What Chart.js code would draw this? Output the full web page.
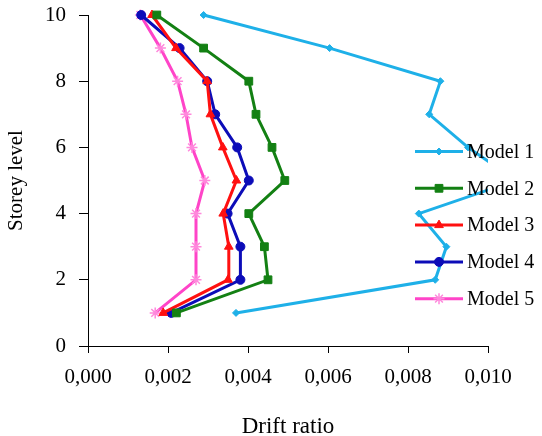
<!DOCTYPE html>
<html>
<head>
<meta charset="utf-8">
<script src="https://cdn.jsdelivr.net/npm/chart.js@4/dist/chart.umd.min.js"></script>
<style>
  html, body { margin: 0; padding: 0; background: #fff; }
  #wrap { width: 542px; height: 436px; }
</style>
</head>
<body>
<div id="wrap"><canvas id="myChart" width="542" height="436"></canvas></div>
<script>
// storey levels, bottom to top
const storeys = [1, 2, 3, 4, 5, 6, 7, 8, 9, 10];

// drift ratio per storey
const model1 = [0.0037, 0.00868, 0.00896, 0.00827, 0.0107, 0.0095, 0.00853, 0.00881, 0.00604, 0.00289];
const model2 = [0.00221, 0.0045, 0.00441, 0.00402, 0.00492, 0.0046, 0.0042, 0.00402, 0.00289, 0.00172];
const model3 = [0.00188, 0.0035, 0.00352, 0.00338, 0.00371, 0.00337, 0.00306, 0.00298, 0.0022, 0.0016];
const model4 = [0.00208, 0.00381, 0.00381, 0.00349, 0.00402, 0.00373, 0.00318, 0.00298, 0.00229, 0.00133];
const model5 = [0.00168, 0.0027, 0.0027, 0.0027, 0.00292, 0.0026, 0.00245, 0.00224, 0.00181, 0.00131];

const seriesNames = ['Model 1', 'Model 2', 'Model 3', 'Model 4', 'Model 5'];
const xTicks = [0, 0.002, 0.004, 0.006, 0.008, 0.010];
const yTicks = [0, 2, 4, 6, 8, 10];

const serif = "'Liberation Serif', 'Times New Roman', serif";

function pts(values) {
    return values.map((v, i) => ({ x: v, y: storeys[i] }));
}

const styles = [
    { color: '#1eb0e8', marker: 'rectRot', radius: 3.5, markerColor: '#1eb0e8' },
    { color: '#138013', marker: 'rect', radius: 5.5, markerColor: '#138013' },
    { color: '#ff1010', marker: 'triangle', radius: 5, markerColor: '#ff1010' },
    { color: '#0c0cb8', marker: 'circle', radius: 4.5, markerColor: '#0c0cb8' },
    { color: '#ff44c8', marker: 'star', radius: 5.5, markerColor: '#ff88dc' }
];

const allValues = [model1, model2, model3, model4, model5];

const datasets = allValues.map((vals, i) => ({
    label: seriesNames[i],
    data: pts(vals),
    showLine: true,
    borderColor: styles[i].color,
    backgroundColor: styles[i].markerColor,
    borderWidth: 3,
    pointStyle: styles[i].marker,
    pointRadius: styles[i].radius,
    pointHoverRadius: styles[i].radius,
    pointBackgroundColor: styles[i].markerColor,
    pointBorderColor: styles[i].markerColor,
    pointBorderWidth: i === 4 ? 1.5 : 1,
    tension: 0,
    clip: { left: false, top: false, right: 0, bottom: false }
}));

// legend drawn at the right, partly over the plot
const sideLegend = {
    id: 'sideLegend',
    afterDraw(chart) {
        const ctx = chart.ctx;
        ctx.save();
        datasets.forEach((ds, i) => {
            const y = 151.5 + i * 36.8;
            ctx.strokeStyle = ds.borderColor;
            ctx.lineWidth = 3;
            ctx.beginPath();
            ctx.moveTo(415, y);
            ctx.lineTo(463, y);
            ctx.stroke();
            ctx.fillStyle = ds.pointBackgroundColor;
            ctx.strokeStyle = ds.pointBorderColor;
            ctx.lineWidth = ds.pointBorderWidth;
            Chart.helpers.drawPoint(ctx, { pointStyle: ds.pointStyle, radius: ds.pointRadius, rotation: 0, borderWidth: ds.pointBorderWidth }, 439, y);
            ctx.fillStyle = '#000';
            ctx.font = '20px ' + serif;
            ctx.textAlign = 'left';
            ctx.textBaseline = 'middle';
            ctx.fillText(ds.label, 467, y + 1);
        });
        ctx.restore();
    }
};

const ctx = document.getElementById('myChart').getContext('2d');

new Chart(ctx, {
    type: 'scatter',
    data: { datasets: datasets },
    plugins: [sideLegend],
    options: {
        responsive: false,
        devicePixelRatio: 1,
        animation: false,
        layout: { padding: { left: 0, right: 54, top: 15, bottom: 0 } },
        plugins: {
            legend: { display: false },
            tooltip: { enabled: false }
        },
        scales: {
            x: {
                type: 'linear',
                min: 0,
                max: 0.01,
                afterBuildTicks: (scale) => { scale.ticks = xTicks.map(v => ({ value: v })); },
                afterFit: (scale) => {
                    scale.height = 90;
                    scale.paddingLeft = 0;
                    scale.paddingRight = 0;
                },
                ticks: {
                    color: '#000',
                    font: { family: serif, size: 21 },
                    padding: 12,
                    maxRotation: 0,
                    callback: (v) => Number(v).toFixed(3).replace('.', ',')
                },
                grid: { drawOnChartArea: false, drawTicks: true, tickLength: 7, tickColor: '#000', tickWidth: 1 },
                border: { display: true, color: '#000', width: 1 },
                title: {
                    display: true,
                    text: 'Drift ratio',
                    color: '#000',
                    font: { family: serif, size: 23 },
                    padding: { top: 0, bottom: -5 }
                }
            },
            y: {
                type: 'linear',
                min: 0,
                max: 10,
                afterBuildTicks: (scale) => { scale.ticks = yTicks.map(v => ({ value: v })); },
                afterFit: (scale) => {
                    scale.width = 88;
                    scale.paddingTop = 0;
                    scale.paddingBottom = 0;
                },
                ticks: {
                    color: '#000',
                    font: { family: serif, size: 21 },
                    padding: 13
                },
                grid: { drawOnChartArea: false, drawTicks: true, tickLength: 9, tickColor: '#000', tickWidth: 1 },
                border: { display: true, color: '#000', width: 1 },
                title: {
                    display: true,
                    text: 'Storey level',
                    color: '#000',
                    font: { family: serif, size: 21 },
                    padding: { top: 4, bottom: 0 }
                }
            }
        }
    }
});
</script>
</body>
</html>
